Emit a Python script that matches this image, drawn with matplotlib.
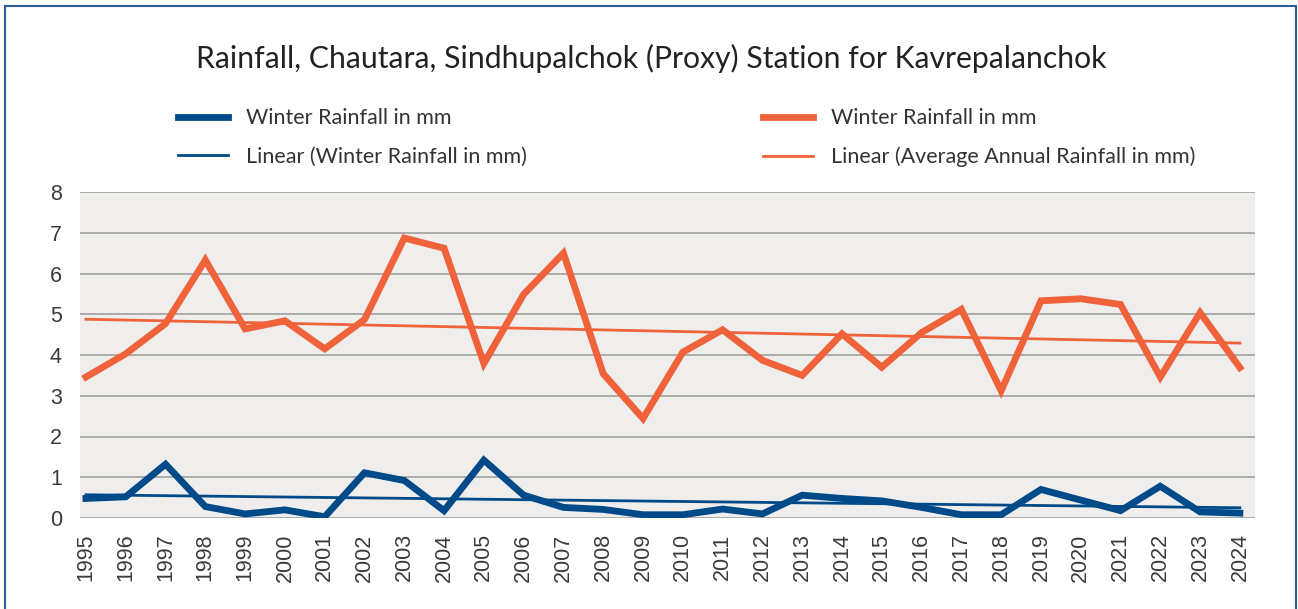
import numpy as np
import matplotlib.pyplot as plt
from matplotlib.lines import Line2D
from matplotlib.patches import Rectangle

years = list(range(1995, 2025))
winter_rain = [0.48, 0.52, 1.32, 0.28, 0.10, 0.20, 0.03, 1.11, 0.92, 0.18,
               1.42, 0.56, 0.26, 0.21, 0.08, 0.08, 0.22, 0.10, 0.56, 0.48,
               0.42, 0.26, 0.08, 0.08, 0.70, 0.44, 0.18, 0.78, 0.15, 0.12]
annual_rain = [3.46, 4.03, 4.77, 6.33, 4.64, 4.84, 4.15, 4.87, 6.87, 6.62,
               3.79, 5.49, 6.50, 3.54, 2.44, 4.07, 4.62, 3.87, 3.50, 4.52,
               3.70, 4.55, 5.12, 3.12, 5.33, 5.38, 5.24, 3.46, 5.04, 3.69]
y_ticks = list(range(0, 9))

title = "Rainfall, Chautara, Sindhupalchok (Proxy) Station for Kavrepalanchok"
labels_blue = ["Winter Rainfall in mm", "Linear (Winter Rainfall in mm)"]
labels_orange = ["Winter Rainfall in mm", "Linear (Average Annual Rainfall in mm)"]

BLUE = "#004A8A"
ORANGE = "#F0623A"

x = np.array(years, dtype=float)


def trend(vals):
    k, b = np.polyfit(x, vals, 1)
    return k * x + b


fig = plt.figure(figsize=(12.98, 6.09), dpi=100)
W, H = 1298, 609
ax = fig.add_axes([80 / W, 1 - 518 / H, (1255 - 80) / W, (518 - 192) / H])
ax.set_facecolor("#EFEEEC")

ax.plot(x, annual_rain, color=ORANGE, lw=4.9, solid_joinstyle="miter", zorder=3)
ax.plot(x, trend(annual_rain), color=ORANGE, lw=2.0, zorder=4)
ax.plot(x, winter_rain, color=BLUE, lw=4.9, solid_joinstyle="miter", zorder=3)
ax.plot(x, trend(winter_rain), color=BLUE, lw=2.0, zorder=4)

ax.set_ylim(0, 8)
ax.set_xlim(1994.85, 2024.38)
ax.set_yticks(y_ticks)
ax.set_xticks(years)
ax.set_xticklabels([str(y) for y in years], rotation=90)
ax.grid(axis="y", color="#A6A6A6", lw=1.3)
ax.set_axisbelow(True)
for s in ax.spines.values():
    s.set_visible(False)
ax.tick_params(length=0, labelsize=15.5, labelcolor="#3a3a3a")
ax.tick_params(axis="y", pad=13)
ax.tick_params(axis="x", pad=11)
for lab in ax.get_xticklabels() + ax.get_yticklabels():
    lab.set_fontfamily("Liberation Sans")

fig.text(651 / W, 1 - 58 / H, title, ha="center", va="center",
         fontsize=21.7, family="Lato", color="#222222")

h_blue = [Line2D([], [], color=BLUE, lw=4.9), Line2D([], [], color=BLUE, lw=2.0)]
h_orange = [Line2D([], [], color=ORANGE, lw=4.9), Line2D([], [], color=ORANGE, lw=2.0)]
leg_kw = dict(loc="upper left", frameon=False, borderpad=0, borderaxespad=0,
              handlelength=2.33, handletextpad=0.84, labelspacing=0.84,
              prop={"family": "Lato", "size": 15.5}, labelcolor="#333333")
fig.legend(h_blue, labels_blue, bbox_to_anchor=(178 / W, 1 - 108.5 / H), **leg_kw)
fig.legend(h_orange, labels_orange, bbox_to_anchor=(763 / W, 1 - 108.5 / H), **leg_kw)

fig.patches.append(Rectangle((5 / W, -0.05), 1291 / W, 1.05 - 6 / H,
                             transform=fig.transFigure, fill=False,
                             edgecolor="#2E5C9A", lw=1.5))

fig.savefig("out.png", dpi=100)
